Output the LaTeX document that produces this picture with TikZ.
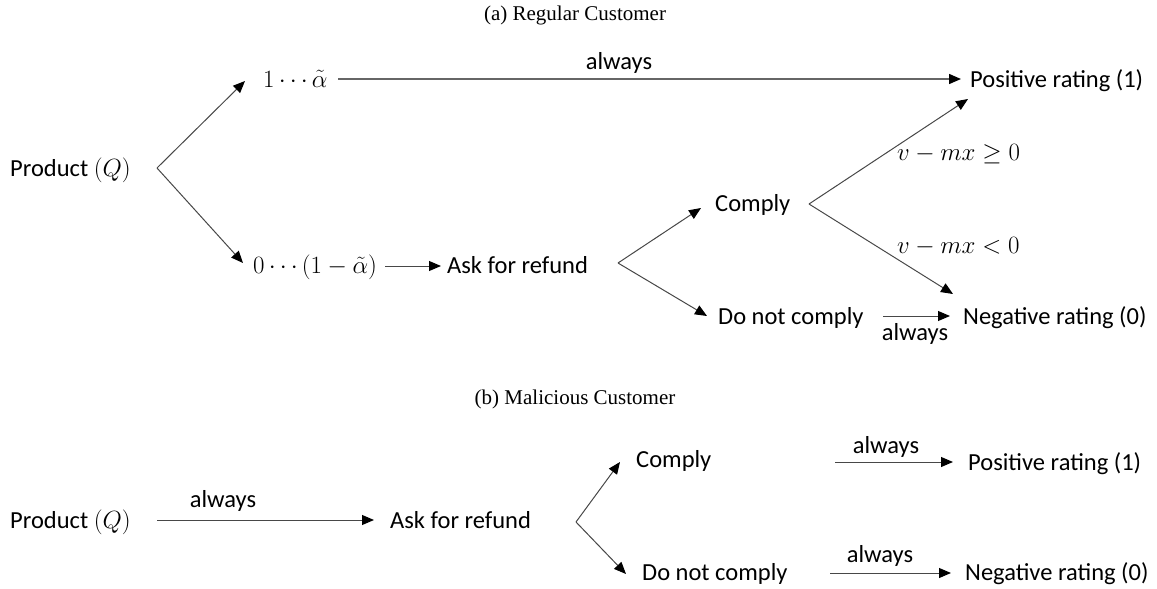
\documentclass[tikz,border=0pt]{standalone}
\usepackage{fontspec}
\setmainfont{Carlito}
\newfontfamily\capfont{Liberation Serif}
\usetikzlibrary{arrows.meta,calc}
\begin{document}
\begin{tikzpicture}[x=1pt,y=-1pt,
  txt/.style={anchor=base west,inner sep=0pt,font=\fontsize{24.5}{29}\selectfont},
  lbl/.style={anchor=base,inner sep=0pt,font=\fontsize{24.5}{29}\selectfont},
  captxt/.style={inner sep=0pt,font=\capfont\fontsize{21}{25}\selectfont},
  conn/.style={draw=black!72,line width=1pt,-{Triangle[length=12pt,width=10pt,color=black]}},
]
\useasboundingbox (0,0) rectangle (1157,589);
% captions
\node[captxt] (capA) at (575,15) {(a) Regular Customer};
\node[captxt] (capB) at (575,399) {(b) Malicious Customer};

% ---------- (a) regular customer
\node[txt] (prodA) at (10,176) {Product $(Q)$};
\node[txt] (oneA)  at (263,87) {$1\cdots\tilde{\alpha}$};
\node[txt] (zeroA) at (253,273) {$0\cdots(1-\tilde{\alpha})$};
\node[txt] (askA)  at (447,273) {Ask for refund};
\node[txt] (compA) at (715,211) {Comply};
\node[txt] (dncA)  at (718,324) {Do not comply};
\node[txt] (posA)  at (970,87) {Positive rating (1)};
\node[txt] (negA)  at (963,324) {Negative rating (0)};
\node[txt] (geA)   at (897,160) {$v-mx\geq 0$};
\node[txt] (ltA)   at (897,253) {$v-mx<0$};
\node[lbl] (alwA1) at (619,69) {always};
\node[lbl] (alwA2) at (915,340) {always};

\coordinate (vA)  at (157,168);
\coordinate (t1A) at (245,81);
\coordinate (t0A) at (243,263);
\coordinate (s1A) at (338,79);
\coordinate (e1A) at (961,79);
\coordinate (s2A) at (385,266);
\coordinate (e2A) at (441,266);
\coordinate (vB)  at (618,263);
\coordinate (tcA) at (701,208);
\coordinate (tdA) at (707,316);
\coordinate (vC)  at (809,204);
\coordinate (tpA) at (968,99);
\coordinate (tnA) at (953,294);
\coordinate (s3A) at (883,316);
\coordinate (e3A) at (950,316);

\draw[conn] (vA) -- (t1A);
\draw[conn] (vA) -- (t0A);
\draw[conn,line width=1.5pt,draw=black!60] (s1A) -- (e1A);
\draw[conn] (s2A) -- (e2A);
\draw[conn] (vB) -- (tcA);
\draw[conn] (vB) -- (tdA);
\draw[conn] (vC) -- (tpA);
\draw[conn] (vC) -- (tnA);
\draw[conn] (s3A) -- (e3A);

% ---------- (b) malicious customer
\node[txt] (prodB) at (10,528) {Product $(Q)$};
\node[txt] (askB)  at (390,528) {Ask for refund};
\node[txt] (compB) at (636,467) {Comply};
\node[txt] (dncB)  at (642,580) {Do not comply};
\node[txt] (posB)  at (968,470) {Positive rating (1)};
\node[txt] (negB)  at (965,580) {Negative rating (0)};
\node[lbl] (alwB1) at (223,507) {always};
\node[lbl] (alwB2) at (886,453) {always};
\node[lbl] (alwB3) at (880,562) {always};

\coordinate (s1B) at (157,520);
\coordinate (e1B) at (374,520);
\coordinate (vD)  at (576,522);
\coordinate (tcB) at (620,462);
\coordinate (tdB) at (626,574);
\coordinate (s2B) at (835,462);
\coordinate (e2B) at (953,462);
\coordinate (s3B) at (830,573);
\coordinate (e3B) at (951,573);

\draw[conn] (s1B) -- (e1B);
\draw[conn] (vD) -- (tcB);
\draw[conn] (vD) -- (tdB);
\draw[conn] (s2B) -- (e2B);
\draw[conn] (s3B) -- (e3B);
\end{tikzpicture}
\end{document}
